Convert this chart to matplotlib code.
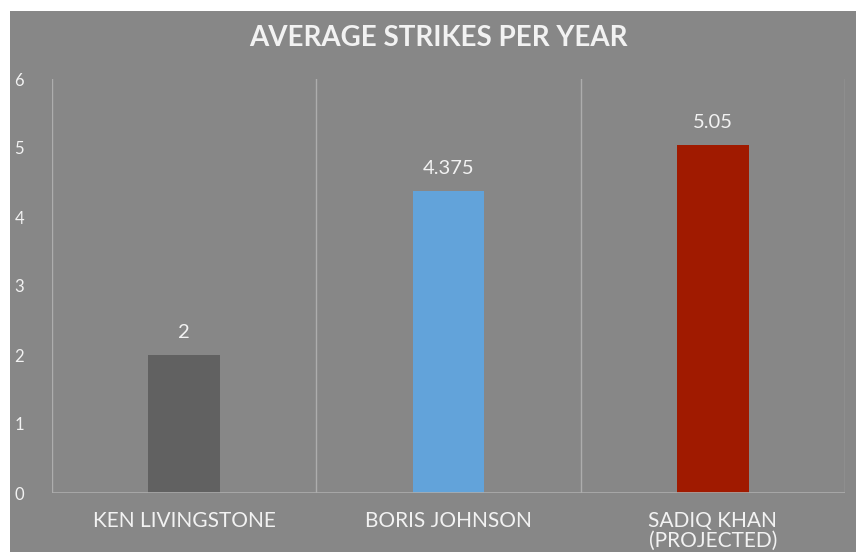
import matplotlib
matplotlib.use("Agg")
import matplotlib.pyplot as plt
from matplotlib.patches import Rectangle

mayors = ["KEN LIVINGSTONE", "BORIS JOHNSON", "SADIQ KHAN\n(PROJECTED)"]
strikes = [2, 4.375, 5.05]
value_labels = ["2", "4.375", "5.05"]
bar_colors = ["#616161", "#62a3da", "#a01a00"]
yticks = [0, 1, 2, 3, 4, 5, 6]

bg = "#878787"
line_col = "#adadad"
txt = "#f2f2f2"

plt.rcParams['font.family'] = ['Lato', 'DejaVu Sans']

fig = plt.figure(figsize=(8.56, 5.52), dpi=100, facecolor="white")
# grey panel with a white strip on the left and top
fig.patches.append(Rectangle((10 / 856, 0), 1, 1 - 11 / 552, transform=fig.transFigure,
                             facecolor=bg, edgecolor="none", zorder=-5))

ax = fig.add_axes([52 / 856, 1 - 493 / 552, (845 - 52) / 856, (493 - 79) / 552])
ax.set_zorder(2)
ax.patch.set_visible(False)

x = range(len(mayors))
ax.bar(x, strikes, width=0.27, color=bar_colors, zorder=3)

for i, v in enumerate(strikes):
    ax.text(i, v + 0.2, value_labels[i], ha="center", va="bottom",
            color=txt, fontsize=14.5)

ax.set_xlim(-0.5, 2.5)
ax.set_ylim(0, 6)

# separators between categories
for b in [-0.5, 0.5, 1.5, 2.5]:
    ax.axvline(b, color=line_col, lw=1, zorder=1)
ax.axhline(0, color=line_col, lw=1.2, zorder=4)

for s in ax.spines.values():
    s.set_visible(False)

ax.set_yticks(yticks)
ax.set_yticklabels([str(t) for t in yticks], color=txt, fontsize=12)
ax.tick_params(axis="y", length=0, pad=20)
ax.set_xticks(list(x))
ax.set_xticklabels(mayors, color=txt, fontsize=15, linespacing=1.0)
ax.tick_params(axis="x", length=0, pad=13)

fig.text(438 / 856, 1 - 38 / 552, "AVERAGE STRIKES PER YEAR", ha="center", va="center",
         color=txt, fontsize=20, fontweight="bold", zorder=3)

fig.savefig("out.png", dpi=100, facecolor="white")
